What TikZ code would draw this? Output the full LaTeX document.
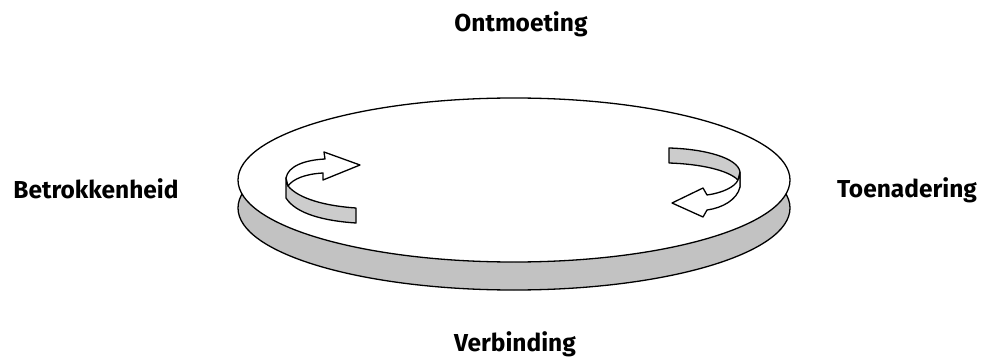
\documentclass[tikz,border=0pt]{standalone}
\usepackage{fontspec}
\setmainfont{Fira Sans}
\definecolor{discgray}{gray}{0.76}
\definecolor{bandgray}{gray}{0.80}
\tikzset{
    phase/.style={font=\bfseries\fontsize{24.5}{28}\selectfont, inner sep=0pt, anchor=base},
    rim/.style={line width=1.3pt, line join=round},
}
\begin{document}
\begin{tikzpicture}[x=1pt, y=-1pt]
    \useasboundingbox (0, 0) rectangle (981, 358);

    % disc
    \draw[rim, fill=discgray] (514, 208) ellipse [x radius=276, y radius=82];
    \draw[rim, fill=white] (514, 180) ellipse [x radius=276, y radius=82];

    % left turning arrow
    \draw[rim, fill=bandgray] (286, 178) -- (286, 198)
        .. controls (296, 214) and (325, 221) .. (356, 223) -- (356, 208)
        .. controls (326, 206) and (299, 199) .. (288, 186) -- cycle;
    \draw[rim, fill=white] (286, 178)
        .. controls (288, 166) and (305, 160) .. (325, 159) -- (324, 152)
        -- (360, 165) -- (323, 180) -- (323, 173)
        .. controls (305, 174) and (293, 179) .. (288, 186) -- cycle;

    % right turning arrow
    \draw[rim, fill=bandgray] (669, 148) -- (669, 163)
        .. controls (700, 164) and (728, 170) .. (738, 180) -- (740, 187)
        -- (740, 172) .. controls (738, 158) and (705, 149) .. (669, 148) -- cycle;
    \draw[rim, fill=white] (740, 172) -- (740, 187)
        .. controls (737, 200) and (722, 208) .. (707, 210) -- (703, 217)
        -- (672, 203) -- (703, 188) -- (707, 195)
        .. controls (722, 193) and (735, 187) .. (738, 180)
        .. controls (739, 176) .. (740, 172);

    \node[phase] (top) at (521, 32) {Ontmoeting};
    \node[phase] (left) at (96, 198) {Betrokkenheid};
    \node[phase] (right) at (907, 197) {Toenadering};
    \node[phase] (bottom) at (515, 351) {Verbinding};
\end{tikzpicture}
\end{document}
